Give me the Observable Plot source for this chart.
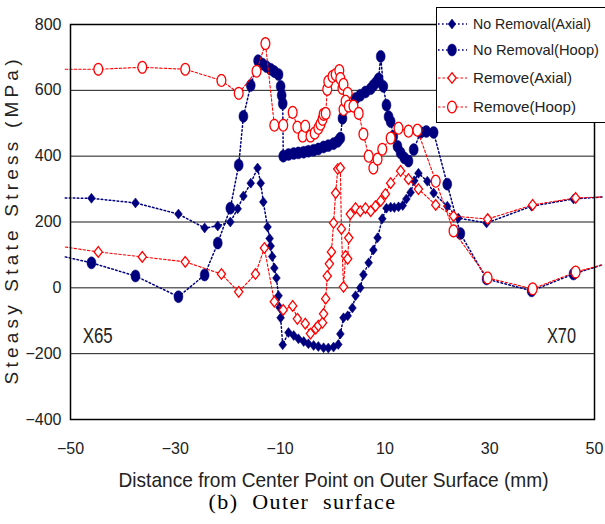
<!DOCTYPE html>
<html><head><meta charset="utf-8">
<script src="https://cdn.jsdelivr.net/npm/d3@7"></script>
<script src="https://cdn.jsdelivr.net/npm/@observablehq/plot@0.6"></script>
<style>
body{margin:0;background:#fff;width:605px;height:524px;overflow:hidden;position:relative;font-family:"Liberation Sans",Arial,sans-serif}
#chart{position:absolute;left:0;top:0}
#legend{position:absolute;left:436px;top:7px}
#caption{position:absolute;left:0;width:605px;top:495px;line-height:14px;text-align:center;font-size:22px;font-family:"Liberation Serif","Times New Roman",serif;letter-spacing:1.4px;white-space:pre;color:#000}
</style></head><body>
<div id="chart"></div><div id="legend"></div><div id="caption">(b)  Outer  surface</div>
<script>
// Steady-state stress along the outer surface, [distance (mm), stress (MPa)]
const noRemovalAxial = [[-51,273],[-46.0,272],[-37.6,258],[-29.4,224],[-24.4,182],[-21.9,188],[-19.5,200],[-18.1,240],[-17.0,279],[-15.6,318],[-14.3,364],[-13.7,318],[-13.2,261],[-12.4,185],[-12.0,150],[-11.8,127],[-11.5,95],[-11.1,60],[-10.7,30],[-10.3,-24],[-10.1,-60],[-9.9,-91],[-9.5,-173],[-8.4,-136],[-7.4,-145],[-6.5,-155],[-5.5,-163],[-4.6,-170],[-3.6,-175],[-2.7,-178],[-1.7,-182],[-0.8,-183],[0.2,-180],[1.1,-172],[1.5,-140],[2.1,-91],[2.9,-85],[3.8,-61],[4.4,-24],[5.3,0],[5.9,40],[6.9,76],[7.8,115],[8.6,152],[9.5,210],[10.3,242],[11.1,245],[11.8,244],[12.6,246],[13.4,250],[14.1,270],[14.9,290],[15.6,325],[16.4,348],[18.1,324],[19.3,288],[21.9,248],[24.0,212],[29.4,197],[38.0,248],[46.0,270],[51.5,276]];
const noRemovalHoop = [[-51,94],[-46.0,76],[-37.6,36],[-29.4,-27],[-24.4,39],[-21.9,136],[-19.5,242],[-17.9,373],[-17.0,521],[-15.6,615],[-14.2,690],[-13.4,680],[-12.6,672],[-11.8,664],[-11.1,657],[-10.3,648],[-9.9,612],[-9.7,585],[-9.5,560],[-9.4,400],[-8.4,405],[-7.4,408],[-6.5,410],[-5.5,412],[-4.6,415],[-3.6,418],[-2.7,422],[-1.7,428],[-0.8,432],[0.2,438],[1.0,445],[1.5,455],[1.9,515],[4.4,575],[5.3,585],[6.3,595],[7.3,605],[7.8,615],[8.4,625],[8.8,635],[9.2,703],[9.7,612],[10.3,555],[10.7,520],[11.1,505],[11.6,460],[12.4,430],[13.0,410],[13.7,395],[14.5,385],[15.5,420],[16.8,472],[17.9,475],[19.3,472],[21.9,315],[24.4,165],[29.4,27],[38.0,-9],[46.0,42],[51.5,70]];
const removeAxial = [[-51,124],[-44.7,109],[-36.3,94],[-28.1,79],[-21.2,42],[-17.9,-12],[-14.7,42],[-13.0,121],[-11.1,-42],[-9.4,-67],[-7.6,-55],[-6.7,-94],[-5.2,-109],[-4.2,-139],[-3.2,-124],[-2.7,-115],[-1.9,-106],[-1.7,-79],[-1.3,-33],[-1.0,36],[-0.6,73],[-0.2,109],[0.2,197],[0.6,288],[1.0,361],[1.5,364],[1.7,179],[2.1,3],[2.5,97],[2.9,88],[3.1,152],[3.4,224],[4.4,242],[5.3,233],[6.3,242],[7.3,233],[8.2,248],[9.2,264],[10.1,285],[11.1,318],[13.0,355],[14.5,330],[16.4,300],[19.7,252],[23.1,218],[29.6,209],[38.2,252],[46.4,273],[51.5,276]];
const removeHoop = [[-51,664],[-44.7,664],[-36.3,670],[-28.1,664],[-21.2,630],[-17.9,591],[-14.5,658],[-12.8,742],[-11.1,494],[-9.4,494],[-7.6,533],[-6.7,488],[-5.7,461],[-5.2,491],[-4.2,461],[-3.4,470],[-2.7,485],[-2.3,497],[-1.9,512],[-1.7,527],[-1.3,530],[-1.0,603],[-0.8,627],[0.0,642],[0.6,648],[1.3,660],[1.5,636],[1.9,606],[2.1,618],[2.9,591],[2.1,542],[2.5,567],[3.1,552],[4.0,552],[5.0,530],[5.9,467],[6.9,400],[7.8,364],[8.6,391],[9.5,421],[11.1,455],[12.6,485],[14.5,476],[16.2,479],[19.7,324],[23.1,173],[29.6,30],[38.2,-3],[46.4,48],[51.5,70]];

const xTicks = [-50, -30, -10, 10, 30, 50];
const yTicks = [-400, -200, 0, 200, 400, 600, 800];
const gridY = [-200, 0, 200, 400, 600];
const gradeLabels = [{x: -44.8, y: -146, label: "X65"}, {x: 43.7, y: -146, label: "X70"}];
const xTitle = "Distance from Center Point on Outer Surface (mm)";
const yTitle = "Steasy State Stress (MPa)";

// Marker shapes: slightly narrow diamonds and upright ellipses
const tallDiamond = {draw(ctx, size) {
  const r = Math.sqrt(size / Math.PI), w = r * 0.78;
  ctx.moveTo(0, -r); ctx.lineTo(w, 0); ctx.lineTo(0, r); ctx.lineTo(-w, 0); ctx.closePath();
}};
const tallCircle = {draw(ctx, size) {
  const r = Math.sqrt(size / Math.PI), rx = r * 0.78, ry = r * 1.05, n = 28;
  for (let i = 0; i < n; i++) {
    const a = 2 * Math.PI * i / n, px = rx * Math.cos(a), py = ry * Math.sin(a);
    i ? ctx.lineTo(px, py) : ctx.moveTo(px, py);
  }
  ctx.closePath();
}};

const navy = "#00007f", red = "#ff0000";
const series = [
  {name: "No Removal(Axial)", data: noRemovalAxial, color: navy, symbol: tallDiamond, r: 5, filled: true, dash: "1.6,2.4", width: 1.5, labelWidth: 118},
  {name: "No Removal(Hoop)", data: noRemovalHoop, color: navy, symbol: tallCircle, r: 5.7, filled: true, dash: "1.6,2.4", width: 1.5, labelWidth: 126},
  {name: "Remove(Axial)", data: removeAxial, color: red, symbol: tallDiamond, r: 5.3, filled: false, dash: "2.5,2", width: 1.1, labelWidth: 99},
  {name: "Remove(Hoop)", data: removeHoop, color: red, symbol: tallCircle, r: 5.6, filled: false, dash: "2.5,2", width: 1.1, labelWidth: 103}
];
const inFrame = d => d[0] >= -50 && d[0] <= 50;
const dotStyle = s => s.filled
  ? {fill: s.color, stroke: s.color, strokeWidth: 0.5}
  : {fill: "white", stroke: s.color, strokeWidth: 1.3};

const chart = Plot.plot({
  width: 605, height: 486,
  marginLeft: 70, marginRight: 11, marginTop: 24, marginBottom: 67,
  style: {fontFamily: '"Liberation Sans",Arial,sans-serif', fontSize: "16px", background: "white", overflow: "visible"},
  x: {domain: [-50, 50]},
  y: {domain: [-400, 800]},
  marks: [
    Plot.ruleY(gridY, {stroke: "#1a1a1a", strokeWidth: 1}),
    ...series.flatMap(s => [
      Plot.line(s.data, {x: d => d[0], y: d => d[1], stroke: s.color, strokeWidth: s.width, strokeDasharray: s.dash}),
      Plot.dot(s.data.filter(inFrame), {x: d => d[0], y: d => d[1], symbol: s.symbol, r: s.r, ...dotStyle(s)})
    ]),
    Plot.frame({stroke: "#000", strokeWidth: 1.5}),
    Plot.axisX({ticks: xTicks, tickSize: 0, tickPadding: 23, label: null, fill: "#222"}),
    Plot.axisY({ticks: yTicks, tickSize: 0, tickPadding: 9, label: null, fill: "#222"}),
    Plot.text(gradeLabels, {x: "x", y: "y", text: "label", fontSize: 22, fill: "#222"}),
    Plot.text([xTitle], {frameAnchor: "bottom", dx: 1, dy: 61, textAnchor: "middle", lineAnchor: "middle", fontSize: 21, fill: "#222"}),
    Plot.text([yTitle], {frameAnchor: "left", dx: -59, rotate: -90, textAnchor: "middle", lineAnchor: "middle", fontSize: 19, fill: "#222"})
  ]
});
document.getElementById("chart").append(chart);

// Narrow, evenly spread lettering for the titles and plate grade labels
const fitText = (content, length, adjust) => d3.select(chart).selectAll("text")
  .filter(function() { return this.textContent === content; })
  .attr("textLength", length).attr("lengthAdjust", adjust);
fitText(xTitle, 430, "spacingAndGlyphs");
fitText(yTitle, 325, "spacing");
fitText("X65", 30, "spacingAndGlyphs");
fitText("X70", 29, "spacingAndGlyphs");

// Legend box, drawn over the upper-right corner of the plot
const lg = d3.select("#legend").append("svg").attr("width", 169).attr("height", 118)
  .style("font-family", '"Liberation Sans",Arial,sans-serif');
lg.append("rect").attr("x", 0.5).attr("y", 0.5).attr("width", 200).attr("height", 115)
  .attr("fill", "white").attr("stroke", "#000").attr("stroke-width", 1);
const rowY = [17, 43, 71, 100];
series.forEach((s, i) => {
  const g = lg.append("g").attr("transform", `translate(0,${rowY[i]})`);
  g.append("line").attr("x1", 2).attr("x2", 31).attr("stroke", s.color)
    .attr("stroke-width", s.width).attr("stroke-dasharray", s.dash);
  const st = dotStyle(s);
  g.append("path").attr("transform", "translate(16,0)")
    .attr("d", d3.symbol(s.symbol, s.r * s.r * Math.PI)())
    .attr("fill", st.fill).attr("stroke", st.stroke).attr("stroke-width", st.strokeWidth);
  g.append("text").attr("x", 37).attr("dy", "0.36em").attr("font-size", 15).attr("fill", "#222")
    .attr("textLength", s.labelWidth).attr("lengthAdjust", "spacingAndGlyphs").text(s.name);
});
</script></body></html>
